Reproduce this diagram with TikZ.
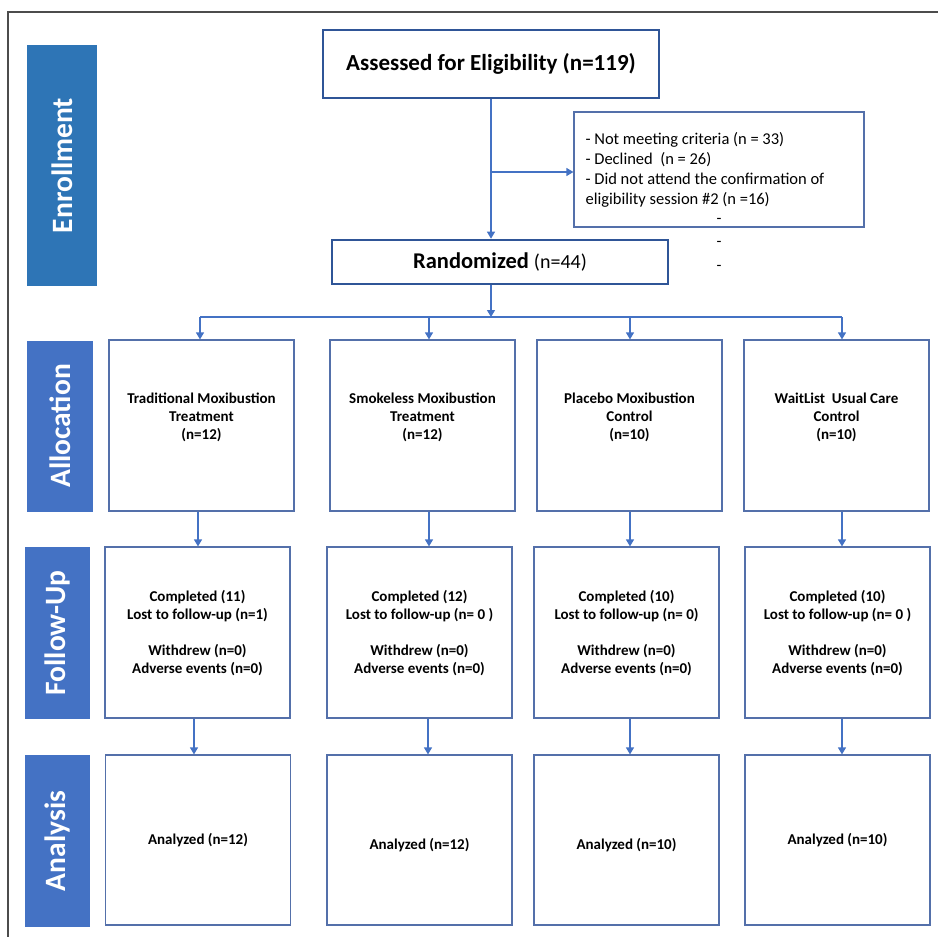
\documentclass[tikz,border=0pt]{standalone}
\usepackage{fontspec}
\setmainfont{Carlito}
\usetikzlibrary{arrows.meta, positioning}
\definecolor{enrollblue}{RGB}{46,117,182}
\definecolor{stageblue}{RGB}{68,114,196}
\definecolor{frameblue}{RGB}{47,85,151}
\definecolor{boxedge}{RGB}{84,112,170}
\tikzset{
  flow arrow/.style={
    -{Triangle[length=7pt,width=8pt]}, % arrow tip style
    line width=1.2pt,                  % connector thickness
    stageblue
  },
  stage label/.style={
    rotate=90, inner sep=0pt, text=white,
    font=\fontsize{29.5}{30}\selectfont\bfseries
  },
  main box/.style={
    draw=frameblue, line width=2.6pt, fill=white, inner sep=0pt
  },
  arm box/.style={
    draw=boxedge, line width=1.2pt, fill=white,
    minimum width=185pt, minimum height=171pt
  },
  arm text/.style={
    align=center, inner sep=0pt, font=\fontsize{15}{18}\selectfont\bfseries
  }
}

\begin{document}
\begin{tikzpicture}[x=1pt, y=-1pt]
    \useasboundingbox (0,0) rectangle (938,937);
    % Frame
    \draw[line width=1.2pt, black!70] (938,12) -- (8,12) -- (8,937);

    % Stage labels on the left
    \foreach \name/\cx/\cy/\h/\w/\col in {Enrollment/62/165.5/241/70/enrollblue,
        Allocation/60/426/171/66/stageblue, Follow-Up/57.5/633/172/65/stageblue,
        Analysis/57.5/841/172/65/stageblue} {
        \node[stage label, fill=\col, minimum width=\h, minimum height=\w] (\name) at (\cx,\cy) {\name};
    }

    % Enrollment part
    \node[main box, minimum width=336pt, minimum height=68pt, font=\fontsize{23}{24}\selectfont\bfseries]
        (assess) at (491,64) {Assessed for Eligibility (n=119)};
    \node[main box, minimum width=336pt, minimum height=44pt]
        (rand) at (500,262) {\fontsize{22.5}{24}\selectfont\bfseries Randomized \fontsize{20}{24}\selectfont\mdseries(n=44)};
    \node[draw=boxedge, line width=1.2pt, minimum width=290pt, minimum height=115pt] (excl) at (719,169.5) {};
    \node[anchor=west, align=left, inner sep=0pt, font=\fontsize{16.5}{20}\selectfont]
        (exclT) at ([xshift=12pt, yshift=-0.5pt]excl.west) {- Not meeting criteria (n = 33)\\- Declined\ \ (n = 26)\\- Did not attend the confirmation of\\eligibility session \#2 (n =16)};
    \foreach \k/\y in {1/221, 2/244, 3/268} {
        \node[font=\fontsize{16}{16}\selectfont, inner sep=0pt] (dash\k) at (719,\y) {-};
    }

    \coordinate (split) at (assess.south |- 0,172);
    \draw[flow arrow] (assess.south) -- (assess.south |- rand.north);
    \draw[flow arrow] (split) -- (split -| excl.west);

    % Arms: allocation, follow-up, analysis
    \foreach \i/\ax/\fx/\nx/\bx/\title/\done/\lost/\nan/\dy in {
        1/201.5/197.5/198/200/{Traditional Moxibustion\\Treatment\\(n=12)}/11/{(n=1)}/12/0,
        2/422.5/419.5/419.5/429/{Smokeless Moxibustion\\Treatment\\(n=12)}/12/{(n= 0 )}/12/5,
        3/629.5/626.5/626.5/630/{Placebo Moxibustion\\Control\\(n=10)}/10/{(n= 0)}/10/5,
        4/836.5/837.5/837.5/842/{WaitList\ \ Usual Care\\Control\\(n=10)}/10/{(n= 0 )}/10/0} {
        \node[arm box] (alloc\i) at (\ax,425.5) {};
        \node[arm text] (allocT\i) at (\ax,417.5) {\title};
        \node[arm box] (follow\i) at (\fx,632.5) {};
        \node[arm text] (followT\i) at (\fx,633) {Completed (\done)\\Lost to follow-up \lost\\[18pt]Withdrew (n=0)\\Adverse events (n=0)};
        \node[arm box, minimum height=170pt] (anal\i) at (\nx,840) {};
        \node[arm text] (analT\i) at (\nx,840+\dy) {Analyzed (n=\nan)};
        \coordinate (bus\i) at (\bx,317);
        \draw[flow arrow] (bus\i) -- (bus\i |- alloc\i.north);
    }

    % Bus from randomization
    \draw[flow arrow] (rand.south -| split) -- (split |- bus1);
    \draw[line width=1.2pt, stageblue] (bus1) -- (bus4);

    % Arrows between the rows
    \foreach \i/\xa/\xb in {1/198/194, 2/429/428, 3/630/630, 4/842/842} {
        \draw[flow arrow] (alloc\i.south -| \xa,0) -- (follow\i.north -| \xa,0);
        \draw[flow arrow] (follow\i.south -| \xb,0) -- (anal\i.north -| \xb,0);
    }
\end{tikzpicture}
\end{document}
